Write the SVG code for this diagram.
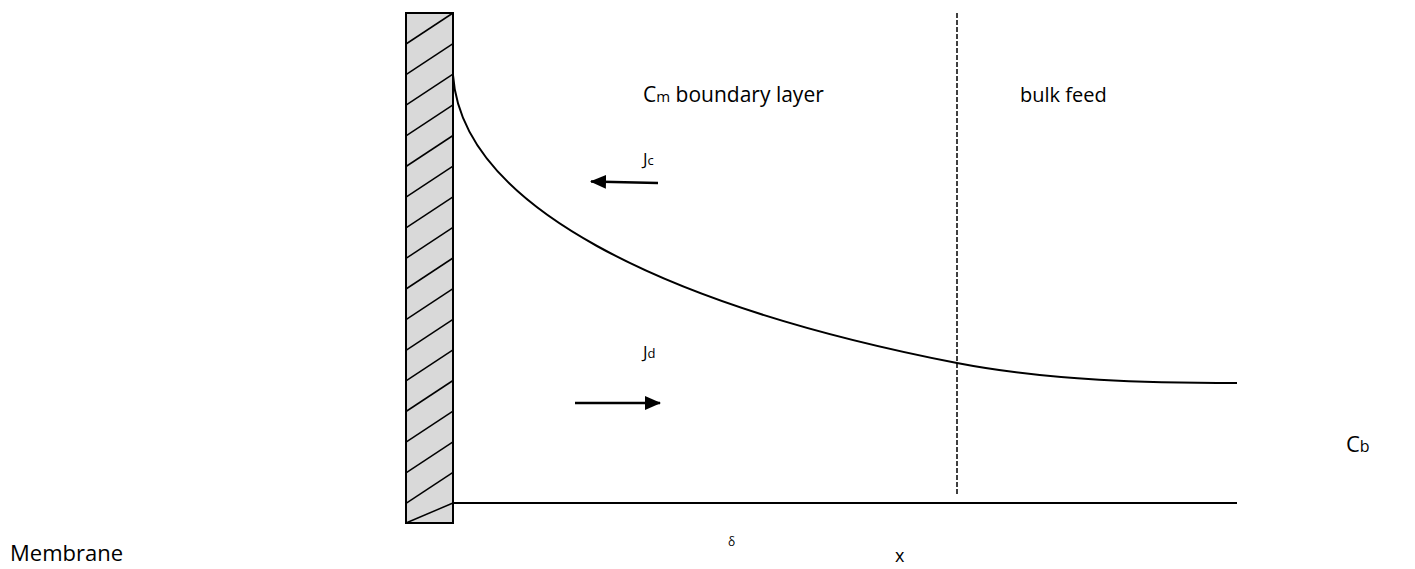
<svg xmlns="http://www.w3.org/2000/svg" width="1415" height="569" viewBox="0 0 1415 569">
<defs>
<style>
.t{font-family:"Open Sans","Liberation Sans",sans-serif;fill:#000}
.ln{stroke:#000;fill:none}
.h{stroke:#000;stroke-width:1.5}
</style>
<marker id="ah" viewBox="0 0 16 14" refX="15" refY="7" markerWidth="16" markerHeight="14" markerUnits="userSpaceOnUse" orient="auto">
<path d="M0,0 L16,7 L0,14 Z" fill="#000"/>
</marker>
</defs>
<rect width="1415" height="569" fill="#fff"/>
<g id="membrane">
<rect x="406" y="13" width="47" height="510" fill="#d9d9d9" stroke="#000" stroke-width="2"/>
<g class="h">
<line x1="453" y1="13" x2="406" y2="44"/>
<line x1="453" y1="43.6" x2="406" y2="74.6"/>
<line x1="453" y1="74.2" x2="406" y2="105.2"/>
<line x1="453" y1="104.9" x2="406" y2="135.9"/>
<line x1="453" y1="135.5" x2="406" y2="166.5"/>
<line x1="453" y1="166.1" x2="406" y2="197.1"/>
<line x1="453" y1="196.8" x2="406" y2="227.8"/>
<line x1="453" y1="227.4" x2="406" y2="258.4"/>
<line x1="453" y1="258" x2="406" y2="289"/>
<line x1="453" y1="288.6" x2="406" y2="319.6"/>
<line x1="453" y1="319.3" x2="406" y2="350.3"/>
<line x1="453" y1="349.9" x2="406" y2="380.9"/>
<line x1="453" y1="380.5" x2="406" y2="411.5"/>
<line x1="453" y1="411.1" x2="406" y2="442.1"/>
<line x1="453" y1="441.8" x2="406" y2="472.8"/>
<line x1="453" y1="472.4" x2="406" y2="503.4"/>
<line x1="453" y1="503" x2="406" y2="523"/>
</g>
</g>
<g id="connectors">
<path id="curve" class="ln" stroke-width="2" d="M453,75 C462,205 660,305 957,363 C1050,381 1150,383 1237,383"/>
<line id="axis" class="ln" stroke-width="2" x1="453" y1="503" x2="1237" y2="503"/>
<line id="delta-line" class="ln" stroke-width="1.5" stroke-dasharray="5,2" x1="957" y1="13" x2="957" y2="496"/>
<line id="jc-arrow" class="ln" stroke-width="2.5" x1="658" y1="183" x2="591" y2="181.5" marker-end="url(#ah)"/>
<line id="jd-arrow" class="ln" stroke-width="2.5" x1="575" y1="403" x2="660" y2="403" marker-end="url(#ah)"/>
</g>
<g id="labels">
<text class="t" x="643" y="102" font-size="21">C<tspan font-size="15">m</tspan> boundary layer</text>
<text class="t" x="1020" y="102" font-size="20">bulk feed</text>
<text class="t" x="643" y="165" font-size="17">J<tspan font-size="13">c</tspan></text>
<text class="t" x="643" y="358" font-size="17">J<tspan font-size="13">d</tspan></text>
<text class="t" x="1346" y="452" font-size="22">C<tspan font-size="16">b</tspan></text>
<text class="t" x="10" y="561" font-size="22">Membrane</text>
<text class="t" x="728" y="546" font-size="12">δ</text>
<text class="t" x="895" y="562" font-size="18">x</text>
</g>
</svg>
